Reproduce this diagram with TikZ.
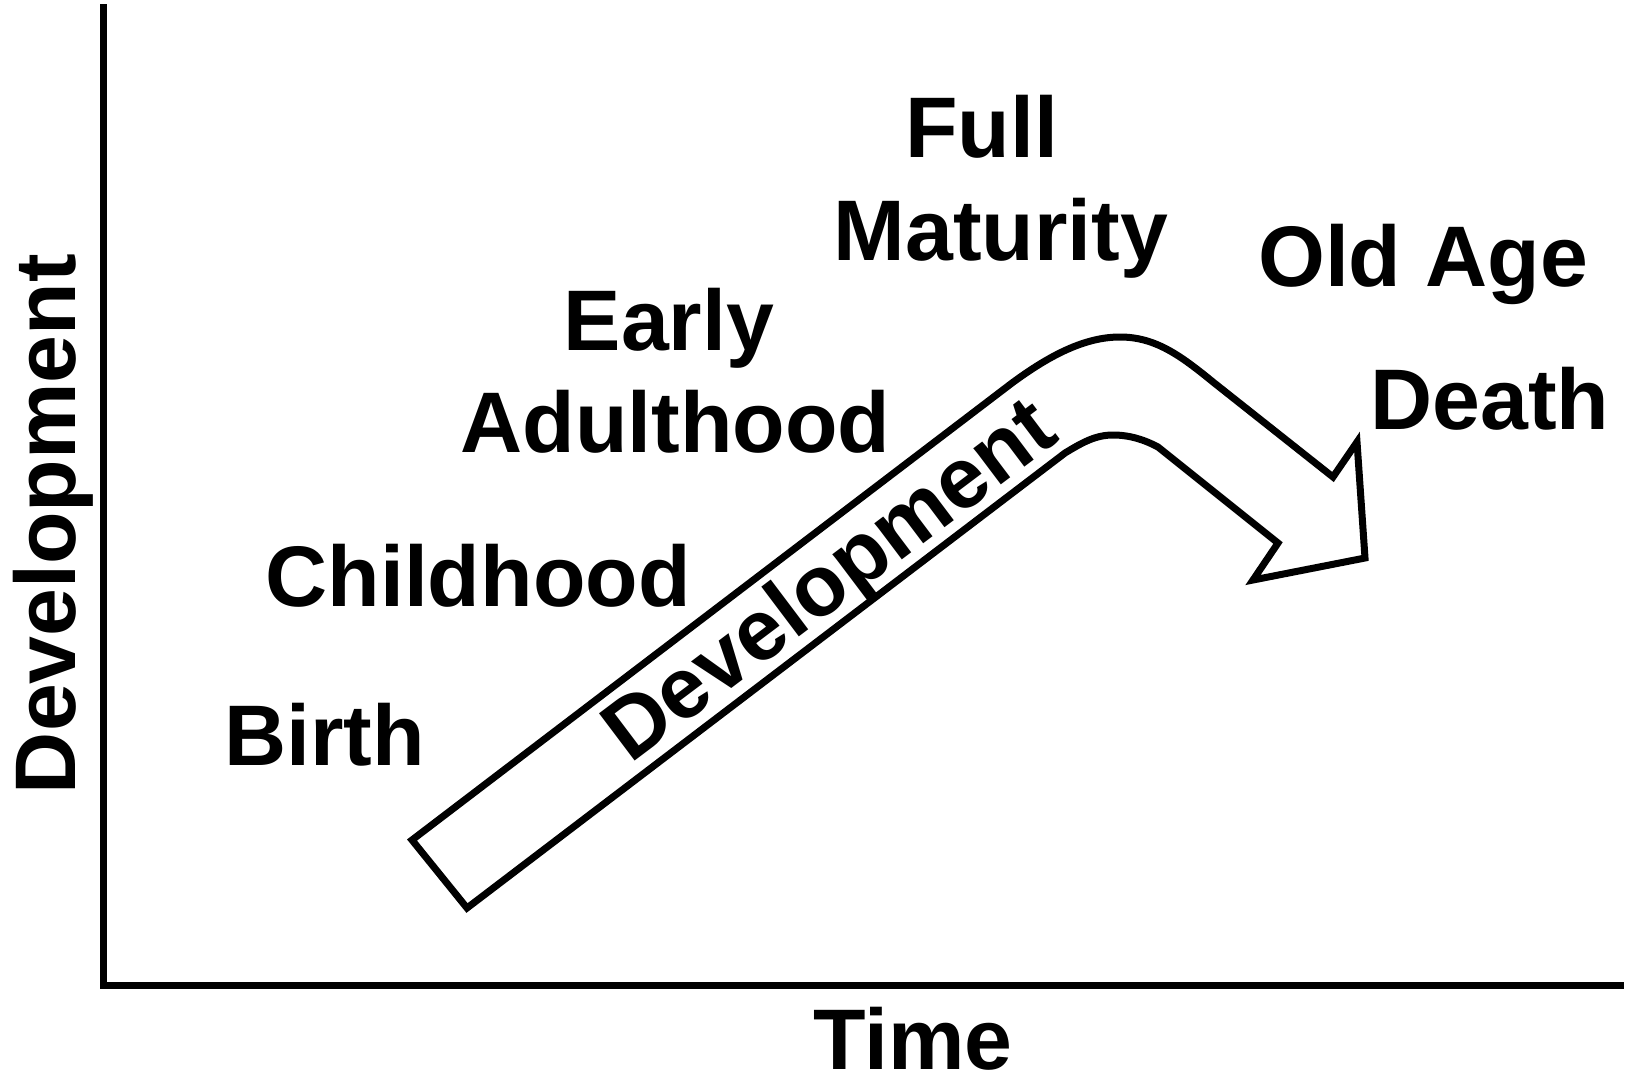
\documentclass[tikz,border=0pt]{standalone}
\usepackage{fontspec}
\setmainfont{Liberation Sans}
\usepackage{tikz}

\begin{document}
\begin{tikzpicture}[x=0.5pt,y=-0.5pt,line width=3.5pt]
            \tikzstyle{stage}=[anchor=base,inner sep=0pt,font=\bfseries\fontsize{43}{51}\selectfont]
            \useasboundingbox (0,0) rectangle (1627,1077);

                % axes
                \draw (103,4) -- (103,985) -- (1624,985);
                \node[stage,rotate=90] (ylabel) at (75,524) {Development};
                \node[stage] (time) at (913,1069) {Time};

                \foreach \name/\x/\y/\txt in {birth/324.5/765/Birth, childhood/478/606/Childhood,
                        early/669/350/Early, adulthood/675.5/452/Adulthood,
                        full/981.5/157/Full, maturity/1001/260/Maturity,
                        oldage/1423/286/Old Age, death/1490/429/Death}
                    \node[stage] (\name) at (\x,\y) {\txt};

                % bent arrow
                \draw[line join=miter] (412,840) -- (467,908) -- (1065,453)
                    .. controls (1083,442) and (1096,435) .. (1113,435)
                    .. controls (1130,435) and (1145,440) .. (1158,447)
                    -- (1278,543) -- (1253,580) -- (1365,558) -- (1357,442) -- (1333,477)
                    -- (1213,382)
                    .. controls (1180,355) and (1155,337) .. (1120,337)
                    .. controls (1085,337) and (1050,355) .. (1012,383)
                    -- cycle;
                \node[stage,rotate=37] (dev) at (846,602) {Development};
        \end{tikzpicture}
\end{document}
